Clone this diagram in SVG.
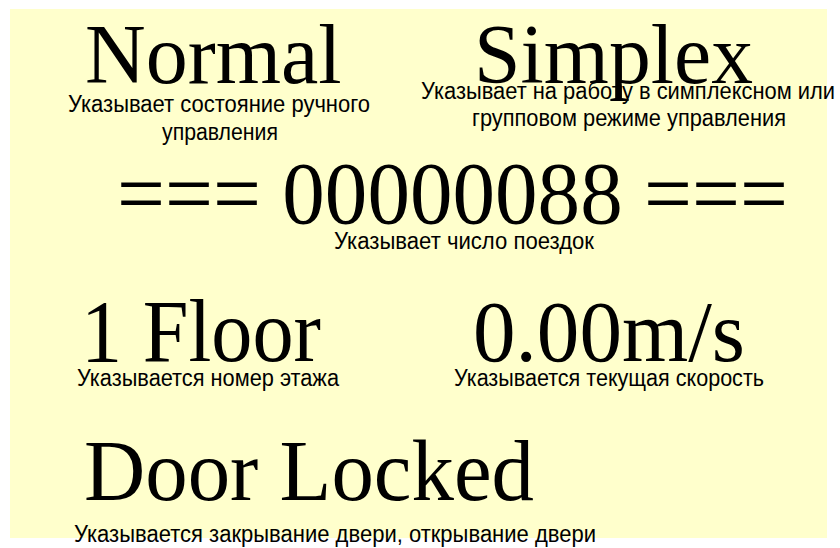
<svg xmlns="http://www.w3.org/2000/svg" width="840" height="548" viewBox="0 0 840 548">
<style>
.big{font-family:"Liberation Serif","Times New Roman",serif;fill:#000}
.cap{font-family:"Liberation Sans",Arial,sans-serif;font-size:23px;fill:#000}
</style>
<rect x="0" y="0" width="840" height="548" fill="#ffffff"/>
<rect id="panel" x="10" y="9" width="817" height="529" fill="#ffffcc"/>
<g id="normal">
<text class="big" x="85" y="83" font-size="84">Normal</text>
<text class="cap" x="68" y="112" textLength="302" lengthAdjust="spacingAndGlyphs">Указывает состояние ручного</text>
<text class="cap" x="162" y="140" textLength="116" lengthAdjust="spacingAndGlyphs">управления</text>
</g>
<g id="simplex">
<text class="big" x="474" y="83" font-size="84" textLength="279" lengthAdjust="spacingAndGlyphs">Simplex</text>
<text class="cap" x="421" y="99" textLength="414" lengthAdjust="spacingAndGlyphs">Указывает на работу в симплексном или</text>
<text class="cap" x="472" y="126" textLength="314" lengthAdjust="spacingAndGlyphs">групповом режиме управления</text>
</g>
<g id="trips">
<text class="big" x="117" y="223" font-size="89" textLength="671" lengthAdjust="spacingAndGlyphs">=== 00000088 ===</text>
<text class="cap" x="334" y="249" textLength="260" lengthAdjust="spacingAndGlyphs">Указывает число поездок</text>
</g>
<g id="floor">
<text class="big" x="81" y="361" font-size="88" textLength="240" lengthAdjust="spacingAndGlyphs">1 Floor</text>
<text class="cap" x="77" y="386" textLength="262" lengthAdjust="spacingAndGlyphs">Указывается номер этажа</text>
</g>
<g id="speed">
<text class="big" x="473" y="361" font-size="86" textLength="272" lengthAdjust="spacingAndGlyphs">0.00m/s</text>
<text class="cap" x="454" y="386" textLength="310" lengthAdjust="spacingAndGlyphs">Указывается текущая скорость</text>
</g>
<g id="door">
<text class="big" x="84" y="500" font-size="86" textLength="450" lengthAdjust="spacingAndGlyphs">Door Locked</text>
<text class="cap" x="74" y="542" textLength="522" lengthAdjust="spacingAndGlyphs">Указывается закрывание двери, открывание двери</text>
</g>
<g id="connectors"></g>
</svg>
